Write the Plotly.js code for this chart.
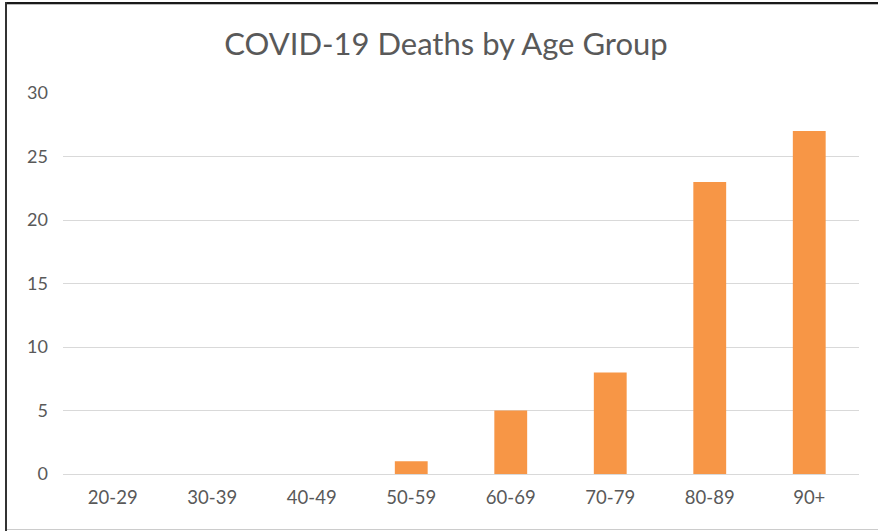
<!DOCTYPE html>
<html>
<head>
<meta charset="utf-8">
<script src="https://cdn.plot.ly/plotly-3.0.1.min.js"></script>
<style>
  html, body { margin: 0; padding: 0; background: #fff; }
  #wrap { position: relative; width: 878px; height: 531px; overflow: hidden; }
  #chart { position: absolute; left: 0; top: 0; width: 878px; height: 531px; }
  .b { position: absolute; pointer-events: none; }
</style>
</head>
<body>
<div id="wrap">
  <div id="chart"></div>
  <div class="b" style="left:5px; top:2px; width:878px; height:2px; background:#1a1a1a;"></div>
  <div class="b" style="left:5px; top:2px; width:2px; height:529px; background:#333;"></div>
  <div class="b" style="left:7px; top:4px; width:878px; height:1px; background:#bbb;"></div>
  <div class="b" style="left:7px; top:529px; width:878px; height:1px; background:#ccc;"></div>
</div>
<script>
const categories = ["20-29", "30-39", "40-49", "50-59", "60-69", "70-79", "80-89", "90+"];
const deaths = [0, 0, 0, 1, 5, 8, 23, 27];
const yTicks = [0, 5, 10, 15, 20, 25, 30];

const textColor = "#595959";
const fontFam = "Lato, 'Open Sans', sans-serif";

Plotly.newPlot("chart", [{
  type: "bar",
  x: categories,
  y: deaths,
  marker: { color: "#F79646" },
  hoverinfo: "x+y"
}], {
  width: 878,
  height: 531,
  paper_bgcolor: "#ffffff",
  plot_bgcolor: "#ffffff",
  margin: { l: 63, r: 19, t: 92.5, b: 57 },
  bargap: 0.67,
  showlegend: false,
  title: {
    text: "COVID-19 Deaths by Age Group",
    font: { family: fontFam, size: 31, color: textColor },
    x: 446 / 878, xanchor: "center",
    y: 1 - 44 / 531, yanchor: "middle"
  },
  xaxis: {
    type: "category",
    showgrid: false,
    showline: false,
    zeroline: false,
    ticks: "",
    tickfont: { family: fontFam, size: 18.5, color: textColor },
    ticklabelstandoff: 10
  },
  yaxis: {
    range: [0, 30],
    tickvals: yTicks,
    ticktext: yTicks.map(String),
    showgrid: true,
    gridcolor: "#D9D9D9",
    gridwidth: 1,
    zeroline: true,
    zerolinecolor: "#D9D9D9",
    zerolinewidth: 1,
    showline: false,
    ticks: "",
    tickfont: { family: fontFam, size: 18, color: textColor },
    ticklabelstandoff: 14
  }
}, { displayModeBar: false, staticPlot: false });
</script>
</body>
</html>
